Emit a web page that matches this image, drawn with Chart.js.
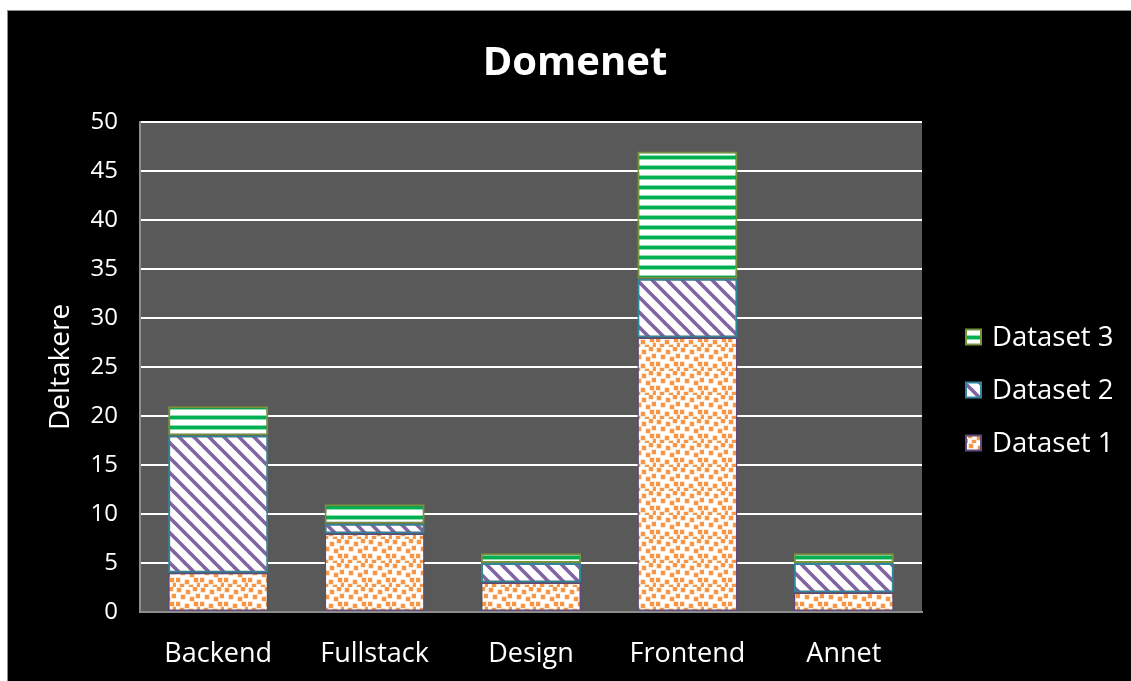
<!DOCTYPE html>
<html>
<head>
<meta charset="utf-8">
<script src="https://cdn.jsdelivr.net/npm/chart.js@4.4.1/dist/chart.umd.min.js"></script>
<style>
  html, body { margin: 0; padding: 0; background: #ffffff; overflow: hidden; }
  #quadro {
    position: absolute; left: 7px; top: 10px; width: 1124px; height: 671px;
    background: #000000; border-left: 1px solid #8c8c8c; border-top: 1px solid #8c8c8c;
  }
  #quadro canvas { display: block; }
</style>
</head>
<body>
<div id="quadro"><canvas id="grafico" width="1123" height="670"></canvas></div>
<script>
// Dados
const categorias = ['Backend', 'Fullstack', 'Design', 'Frontend', 'Annet'];
const dataset1 = [4, 8, 3, 28, 2];
const dataset2 = [14, 1, 2, 6, 3];
const dataset3 = [3, 2, 1, 13, 1];
const nomesSeries = ['Dataset 1', 'Dataset 2', 'Dataset 3'];
const ticksY = [0, 5, 10, 15, 20, 25, 30, 35, 40, 45, 50];
const titulo = 'Domenet';
const tituloEixoY = 'Deltakere';

const FONTE = "'Open Sans', Lato, sans-serif";

// Padrões de preenchimento
function criarTile(w, h, desenhar) {
  const c = document.createElement('canvas');
  c.width = w; c.height = h;
  const ctx = c.getContext('2d');
  ctx.fillStyle = '#ffffff';
  ctx.fillRect(0, 0, w, h);
  desenhar(ctx);
  return document.createElement('canvas').getContext('2d').createPattern(c, 'repeat');
}

const padraoPontos = criarTile(24, 24, ctx => {
  const pts = [[1, 1], [10, 3], [17, 0], [5, 8], [14, 10], [20, 7],
               [0, 15], [9, 17], [18, 15], [4, 21], [13, 22], [21, 20]];
  pts.forEach(([x, y]) => {
    ctx.fillStyle = '#fbcba2';
    ctx.fillRect(x - 0.5, y - 0.5, 5, 5);
    ctx.fillStyle = '#f79646';
    ctx.fillRect(x, y, 4, 4);
  });
});

const padraoDiagonal = criarTile(15, 15, ctx => {
  ctx.strokeStyle = '#8064a2';
  ctx.lineWidth = 3.6;
  [-15, 0, 15].forEach(d => {
    ctx.beginPath();
    ctx.moveTo(d - 1, -1);
    ctx.lineTo(d + 16, 16);
    ctx.stroke();
  });
});

const padraoListras = criarTile(10, 10, ctx => {
  ctx.fillStyle = '#8fdcb0';
  ctx.fillRect(0, 4, 10, 1);
  ctx.fillRect(0, 8, 10, 1);
  ctx.fillStyle = '#00b050';
  ctx.fillRect(0, 5, 10, 3);
});

const estilos = [
  { fundo: padraoPontos, borda: '#5f497a', largura: 1.5 },
  { fundo: padraoDiagonal, borda: '#31859c', largura: 2 },
  { fundo: padraoListras, borda: '#77933c', largura: 2 }
];

// Fundo cinza da área de plotagem + título centrado na figura
const fundoPlot = {
  id: 'fundoPlot',
  beforeDraw(chart) {
    const { ctx, chartArea: a } = chart;
    ctx.save();
    ctx.fillStyle = '#595959';
    ctx.fillRect(a.left, a.top, a.right - a.left, a.bottom - a.top);
    ctx.fillStyle = '#ffffff';
    ctx.font = 'bold 40px ' + FONTE;
    ctx.textAlign = 'center';
    ctx.textBaseline = 'middle';
    ctx.fillText(titulo, 567, 53);
    ctx.restore();
  }
};

// Legenda à direita, ordem invertida
const legendaDireita = {
  id: 'legendaDireita',
  afterDraw(chart) {
    const { ctx } = chart;
    const x = 958, y0 = 326, passo = 53, lado = 15;
    ctx.save();
    ctx.font = '27.5px ' + FONTE;
    ctx.textBaseline = 'middle';
    chart.data.datasets.slice().reverse().forEach((ds, i) => {
      const y = y0 + i * passo;
      ctx.fillStyle = ds.backgroundColor;
      ctx.fillRect(x, y - lado / 2, lado, lado);
      ctx.strokeStyle = ds.borderColor;
      ctx.lineWidth = 2;
      ctx.strokeRect(x, y - lado / 2, lado, lado);
      ctx.fillStyle = '#ffffff';
      ctx.fillText(ds.label, x + lado + 11, y + 1);
    });
    ctx.restore();
  }
};

const series = [dataset1, dataset2, dataset3];

new Chart(document.getElementById('grafico'), {
  type: 'bar',
  data: {
    labels: categorias,
    datasets: series.map((valores, i) => ({
      label: nomesSeries[i],
      data: valores,
      backgroundColor: estilos[i].fundo,
      borderColor: estilos[i].borda,
      borderWidth: estilos[i].largura,
      borderSkipped: false,
      categoryPercentage: 1,
      barPercentage: 0.64
    }))
  },
  options: {
    responsive: false,
    animation: false,
    layout: { padding: { left: 0, right: 209, top: 111, bottom: 0 } },
    plugins: {
      legend: { display: false },
      tooltip: { enabled: false },
      title: { display: false }
    },
    scales: {
      x: {
        stacked: true,
        grid: { display: false },
        border: { display: true, color: '#8c8c8c', width: 2 },
        ticks: { color: '#ffffff', padding: 18, font: { family: FONTE, size: 27 } },
        afterFit: s => { s.height = 69; }
      },
      y: {
        stacked: true,
        min: 0,
        max: 50,
        afterBuildTicks: s => { s.ticks = ticksY.map(v => ({ value: v })); },
        grid: {
          color: ctx => ctx.tick && ctx.tick.value === 0 ? '#8c8c8c' : '#ffffff',
          lineWidth: 2,
          drawTicks: false
        },
        border: { display: true, color: '#8c8c8c', width: 2 },
        ticks: { color: '#ffffff', padding: 22, font: { family: FONTE, size: 24 } },
        title: {
          display: true,
          text: tituloEixoY,
          color: '#ffffff',
          font: { family: FONTE, size: 28 },
          padding: { top: 36, bottom: 0 }
        },
        afterFit: s => { s.width = 132; }
      }
    }
  },
  plugins: [fundoPlot, legendaDireita]
});
</script>
</body>
</html>
